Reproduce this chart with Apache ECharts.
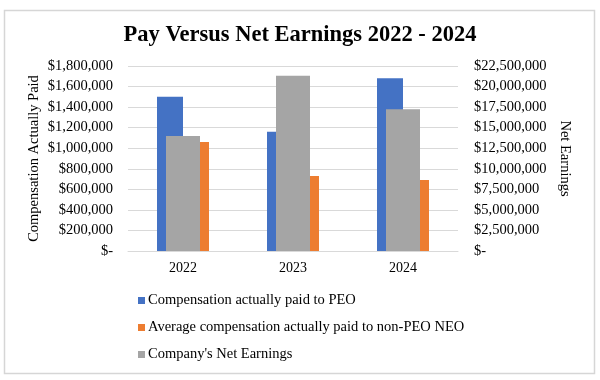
<!DOCTYPE html>
<html>
<head>
<meta charset="utf-8">
<script src="https://cdn.jsdelivr.net/npm/echarts@6/dist/echarts.min.js"></script>
<style>
html,body{margin:0;padding:0;background:#fff;}
#chart{width:600px;height:380px;}
</style>
</head>
<body>
<div id="chart"></div>
<script>
const categories = ['2022', '2023', '2024'];
const peoPay = [1500000, 1160000, 1680000];
const nonPeoPay = [1060000, 730000, 690000];
const netEarnings = [14000000, 21300000, 17250000];
const seriesNames = ['Compensation actually paid to PEO', 'Average compensation actually paid to non-PEO NEO', "Company's Net Earnings"];
const titleText = 'Pay Versus Net Earnings 2022 - 2024';
const leftAxisName = 'Compensation Actually Paid';
const rightAxisName = 'Net Earnings';

const FONT = '"Liberation Serif", "Times New Roman", serif';
function money(v) {
  if (v === 0) return '$-';
  return '$' + v.toLocaleString('en-US');
}

const chart = echarts.init(document.getElementById('chart'), null, {renderer: 'canvas'});
chart.setOption({
  animation: false,
  backgroundColor: '#fff',
  title: {
    text: titleText, left: 'center', top: 19,
    textStyle: {fontFamily: FONT, fontSize: 22.5, fontWeight: 'bold', color: '#000'}
  },
  graphic: [{
    type: 'rect', left: 2, top: 8, z: -1,
    shape: {width: 590, height: 363},
    style: {fill: 'none', stroke: '#d6d6d6', lineWidth: 1.5}
  }],
  legend: {
    orient: 'vertical', left: 133, top: 288,
    itemWidth: 7, itemHeight: 7, itemGap: 12, icon: 'rect',
    textStyle: {fontFamily: FONT, fontSize: 14.5, color: '#000', padding: [0, 0, 0, -2]},
    data: seriesNames
  },
  grid: {left: 128, right: 142, top: 66, bottom: 129, containLabel: false},
  xAxis: [{
    type: 'category', data: categories,
    axisTick: {show: false},
    axisLine: {lineStyle: {color: '#d9d9d9'}},
    axisLabel: {fontFamily: FONT, fontSize: 14, color: '#000', margin: 10}
  }, {
    type: 'category', data: categories, show: false
  }],
  yAxis: [{
    type: 'value', min: 0, max: 1800000, interval: 200000,
    name: leftAxisName, nameLocation: 'middle', nameGap: 86, nameRotate: 90,
    nameMoveOverlap: false,
    nameTextStyle: {fontFamily: FONT, fontSize: 14.5, color: '#000'},
    axisLine: {show: false}, axisTick: {show: false},
    splitLine: {lineStyle: {color: '#d9d9d9'}},
    axisLabel: {fontFamily: FONT, fontSize: 14.5, color: '#000', margin: 15, formatter: money}
  }, {
    type: 'value', min: 0, max: 22500000, interval: 2500000,
    name: rightAxisName, nameLocation: 'middle', nameGap: 99, nameRotate: -90,
    nameMoveOverlap: false,
    nameTextStyle: {fontFamily: FONT, fontSize: 14.5, color: '#000'},
    axisLine: {show: false}, axisTick: {show: false},
    splitLine: {show: false},
    axisLabel: {fontFamily: FONT, fontSize: 14.5, color: '#000', margin: 16, formatter: money}
  }],
  series: [{
    name: seriesNames[0], type: 'bar', xAxisIndex: 0, yAxisIndex: 0,
    data: peoPay, barWidth: 26, barGap: '0%',
    itemStyle: {color: '#4472C4'}
  }, {
    name: seriesNames[1], type: 'bar', xAxisIndex: 0, yAxisIndex: 0,
    data: nonPeoPay, barWidth: 26, barGap: '0%',
    itemStyle: {color: '#ED7D31'}
  }, {
    name: seriesNames[2], type: 'bar', xAxisIndex: 1, yAxisIndex: 1,
    data: netEarnings, barWidth: 34,
    itemStyle: {color: '#A5A5A5'}
  }]
});
</script>
</body>
</html>
